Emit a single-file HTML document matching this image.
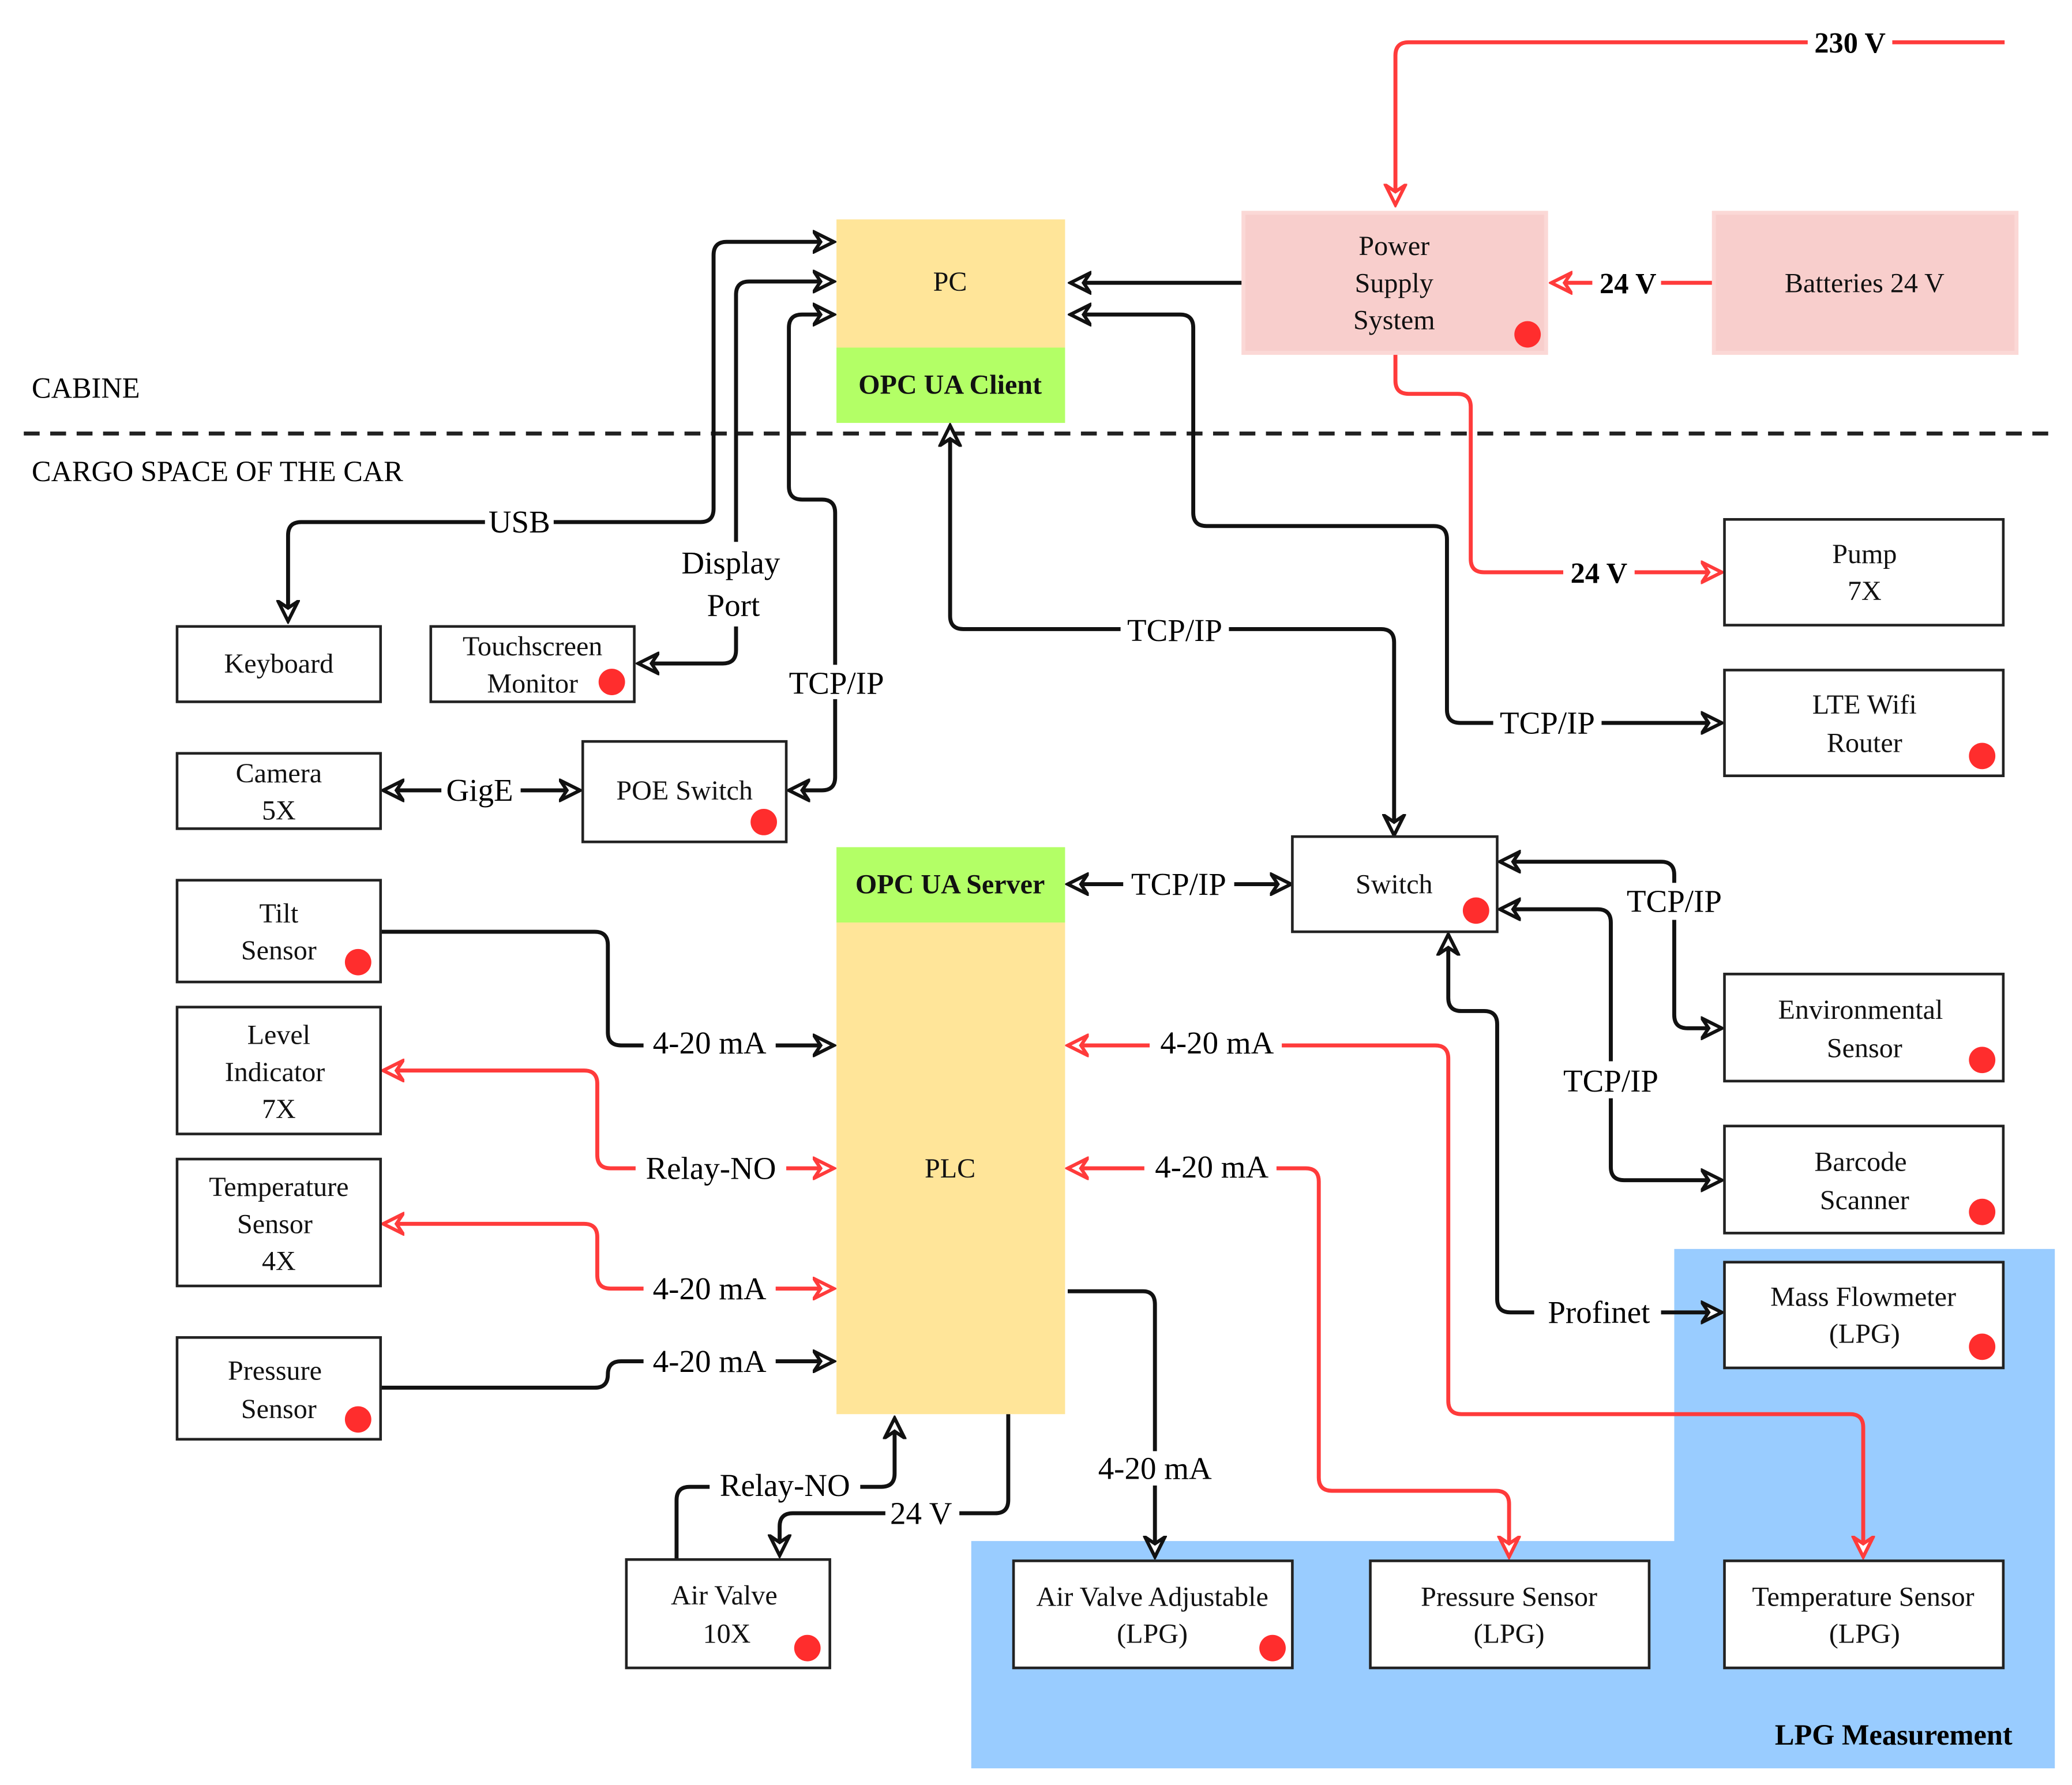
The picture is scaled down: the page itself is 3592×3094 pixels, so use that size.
<!DOCTYPE html>
<html><head><meta charset="utf-8"><style>html,body{margin:0;padding:0;background:#fff}svg{display:block;font-family:"Liberation Serif","DejaVu Serif",serif}text{font-family:"Liberation Serif","DejaVu Serif",serif}</style></head>
<body>
<svg width="3592" height="3094" viewBox="0 0 1568 1350.6" xmlns="http://www.w3.org/2000/svg">
<defs>
<marker id="ab" viewBox="0 0 18 18" refX="16" refY="9" markerWidth="18" markerHeight="18" markerUnits="userSpaceOnUse" orient="auto-start-reverse">
<path d="M1,1.5 L16,9 L1,16.5 L6,9 Z" fill="#fff" stroke="#111" stroke-width="2.6" stroke-linejoin="miter"/></marker>
<marker id="ar" viewBox="0 0 18 18" refX="16" refY="9" markerWidth="18" markerHeight="18" markerUnits="userSpaceOnUse" orient="auto-start-reverse">
<path d="M1,1.5 L16,9 L1,16.5 L6,9 Z" fill="#fff" stroke="#ff3b3b" stroke-width="2.6"/></marker>
</defs>
<rect width="1568" height="1351" fill="#fff"/>
<polygon points="1267,945 1555,945 1555,1338 735,1338 735,1166 1267,1166" fill="#99ccff"/>
<text x="1433" y="1320" font-size="22" font-weight="bold" text-anchor="middle">LPG Measurement</text>
<line x1="18" y1="328" x2="1555" y2="328" stroke="#222" stroke-width="3" stroke-dasharray="12,8"/>
<text x="24" y="301" font-size="22">CABINE</text>
<text x="24" y="364" font-size="22">CARGO SPACE OF THE CAR</text>

<g fill="none" stroke-width="3" stroke-linejoin="round">
<g stroke="#ff3b3b">
<path d="M1517,32 H1066 Q1056,32 1056,42 V155" marker-end="url(#ar)"/>
<path d="M1296,214 H1174" marker-end="url(#ar)"/>
<path d="M1056,268 V288 Q1056,298 1066,298 H1103 Q1113,298 1113,308 V423 Q1113,433 1123,433 H1303" marker-end="url(#ar)"/>
<path d="M290,810 H442 Q452,810 452,820 V874 Q452,884 462,884 H631" marker-start="url(#ar)" marker-end="url(#ar)"/>
<path d="M290,926 H442 Q452,926 452,936 V965 Q452,975 462,975 H631" marker-start="url(#ar)" marker-end="url(#ar)"/>
<path d="M808,884 H988 Q998,884 998,894 V1118 Q998,1128 1008,1128 H1132 Q1142,1128 1142,1138 V1178" marker-start="url(#ar)" marker-end="url(#ar)"/>
<path d="M808,791 H1086 Q1096,791 1096,801 V1060 Q1096,1070 1106,1070 H1400 Q1410,1070 1410,1080 V1178" marker-start="url(#ar)" marker-end="url(#ar)"/>
</g>
<g stroke="#111">
<path d="M940,214 H810" marker-end="url(#ab)"/>
<path d="M810,238 H893 Q903,238 903,248 V388 Q903,398 913,398 H1085 Q1095,398 1095,408 V537 Q1095,547 1105,547 H1303" marker-start="url(#ab)" marker-end="url(#ab)"/>
<path d="M631,183 H550 Q540,183 540,193 V385 Q540,395 530,395 H228 Q218,395 218,405 V470" marker-start="url(#ab)" marker-end="url(#ab)"/>
<path d="M631,213 H567 Q557,213 557,223 V492 Q557,502 547,502 H483" marker-start="url(#ab)" marker-end="url(#ab)"/>
<path d="M631,238 H607 Q597,238 597,248 V368 Q597,378 607,378 H622 Q632,378 632,388 V588 Q632,598 622,598 H597" marker-end="url(#ab)" marker-start="url(#ab)"/>
<path d="M290,598 H439" marker-start="url(#ab)" marker-end="url(#ab)"/>
<path d="M719,322 V466 Q719,476 729,476 H1045 Q1055,476 1055,486 V632" marker-start="url(#ab)" marker-end="url(#ab)"/>
<path d="M808,669 H977" marker-start="url(#ab)" marker-end="url(#ab)"/>
<path d="M1135,652 H1257 Q1267,652 1267,662 V768 Q1267,778 1277,778 H1303" marker-start="url(#ab)" marker-end="url(#ab)"/>
<path d="M1135,688 H1209 Q1219,688 1219,698 V883 Q1219,893 1229,893 H1303" marker-start="url(#ab)" marker-end="url(#ab)"/>
<path d="M1096,707 V755 Q1096,765 1106,765 H1123 Q1133,765 1133,775 V983 Q1133,993 1143,993 H1303" marker-start="url(#ab)" marker-end="url(#ab)"/>
<path d="M288,705 H450 Q460,705 460,715 V781 Q460,791 470,791 H631" marker-end="url(#ab)"/>
<path d="M288,1050 H450 Q460,1050 460,1040 Q460,1030 470,1030 H631" marker-end="url(#ab)"/>
<path d="M512,1180 V1135 Q512,1125 522,1125 H667 Q677,1125 677,1115 V1073" marker-end="url(#ab)"/>
<path d="M763,1070 V1135 Q763,1145 753,1145 H600 Q590,1145 590,1155 V1177" marker-end="url(#ab)"/>
<path d="M808,977 H865 Q874,977 874,987 V1178" marker-end="url(#ab)"/>
</g>
</g>

<g font-size="24" text-anchor="middle">
<g fill="#fff">
<rect x="1368" y="20" width="64" height="24"/><rect x="1205" y="202" width="52" height="24"/><rect x="1183" y="421" width="54" height="24"/>
<rect x="367" y="383" width="52" height="24"/><rect x="510" y="410" width="88" height="64"/><rect x="588" y="503" width="90" height="26"/>
<rect x="334" y="585" width="60" height="26"/><rect x="848" y="465" width="82" height="24"/><rect x="850" y="657" width="84" height="24"/>
<rect x="1130" y="535" width="82" height="24"/><rect x="1222" y="668" width="90" height="28"/><rect x="1174" y="803" width="90" height="28"/>
<rect x="1161" y="980" width="96" height="26"/><rect x="487" y="777" width="100" height="26"/><rect x="481" y="871" width="114" height="26"/>
<rect x="487" y="962" width="100" height="26"/><rect x="487" y="1017" width="100" height="26"/><rect x="537" y="1111" width="114" height="26"/>
<rect x="670" y="1132" width="56" height="26"/><rect x="822" y="1098" width="104" height="26"/><rect x="870" y="777" width="100" height="26"/>
<rect x="866" y="871" width="100" height="26"/>
</g>
<text x="1400" y="40" font-size="22" font-weight="bold">230 V</text>
<text x="1232" y="222" font-size="22" font-weight="bold">24 V</text>
<text x="1210" y="441" font-size="22" font-weight="bold">24 V</text>
<text x="393" y="403">USB</text>
<text x="553" y="434">Display</text><text x="555" y="466">Port</text>
<text x="633" y="525">TCP/IP</text>
<text x="363" y="606">GigE</text>
<text x="889" y="485">TCP/IP</text>
<text x="892" y="677">TCP/IP</text>
<text x="1171" y="555">TCP/IP</text>
<text x="1267" y="690">TCP/IP</text>
<text x="1219" y="826">TCP/IP</text>
<text x="1210" y="1001">Profinet</text>
<text x="537" y="797">4-20 mA</text>
<text x="538" y="892">Relay-NO</text>
<text x="537" y="983">4-20 mA</text>
<text x="537" y="1038">4-20 mA</text>
<text x="594" y="1132">Relay-NO</text>
<text x="697" y="1153">24 V</text>
<text x="874" y="1119">4-20 mA</text>
<text x="921" y="797">4-20 mA</text>
<text x="917" y="891">4-20 mA</text>
</g>

<rect x="633" y="166" width="173" height="97" fill="#ffe599"/>
<rect x="633" y="263" width="173" height="57" fill="#b3ff66"/>
<rect x="633" y="641" width="173" height="57" fill="#b3ff66"/>
<rect x="633" y="698" width="173" height="372" fill="#ffe599"/>
<rect x="941" y="161" width="229" height="106" fill="#f8cecc" stroke="#fbd8d6" stroke-width="3"/>
<rect x="1297" y="161" width="229" height="106" fill="#f8cecc" stroke="#fbd8d6" stroke-width="3"/>

<g fill="#fff" stroke="#222" stroke-width="2">
<rect x="1305" y="393" width="211" height="80"/>
<rect x="1305" y="507" width="211" height="80"/>
<rect x="134" y="474" width="154" height="57"/>
<rect x="326" y="474" width="154" height="57"/>
<rect x="134" y="570" width="154" height="57"/>
<rect x="441" y="561" width="154" height="76"/>
<rect x="978" y="633" width="155" height="72"/>
<rect x="1305" y="737" width="211" height="81"/>
<rect x="1305" y="852" width="211" height="81"/>
<rect x="1305" y="955" width="211" height="80"/>
<rect x="767" y="1181" width="211" height="81"/>
<rect x="1037" y="1181" width="211" height="81"/>
<rect x="1305" y="1181" width="211" height="81"/>
<rect x="474" y="1180" width="154" height="82"/>
<rect x="134" y="666" width="154" height="77"/>
<rect x="134" y="762" width="154" height="96"/>
<rect x="134" y="877" width="154" height="96"/>
<rect x="134" y="1012" width="154" height="77"/>
</g>

<g font-size="21" text-anchor="middle" fill="#111">
<text x="719" y="220">PC</text>
<text x="719" y="298" font-weight="bold">OPC UA Client</text>
<text x="719" y="676" font-weight="bold">OPC UA Server</text>
<text x="719" y="891">PLC</text>
<text x="1055" y="193">Power</text><text x="1055" y="221">Supply</text><text x="1055" y="249">System</text>
<text x="1411" y="221">Batteries 24 V</text>
<text x="1411" y="426">Pump</text><text x="1411" y="454">7X</text>
<text x="1411" y="540">LTE Wifi</text><text x="1411" y="569">Router</text>
<text x="211" y="509">Keyboard</text>
<text x="403" y="496">Touchscreen</text><text x="403" y="524">Monitor</text>
<text x="211" y="592">Camera</text><text x="211" y="620">5X</text>
<text x="518" y="605">POE Switch</text>
<text x="1055" y="676">Switch</text>
<text x="1408" y="771">Environmental</text><text x="1411" y="800">Sensor</text>
<text x="1408" y="886">Barcode</text><text x="1411" y="915">Scanner</text>
<text x="1410" y="988">Mass Flowmeter</text><text x="1411" y="1016">(LPG)</text>
<text x="872" y="1215">Air Valve Adjustable</text><text x="872" y="1243">(LPG)</text>
<text x="1142" y="1215">Pressure Sensor</text><text x="1142" y="1243">(LPG)</text>
<text x="1410" y="1215">Temperature Sensor</text><text x="1411" y="1243">(LPG)</text>
<text x="548" y="1214">Air Valve</text><text x="550" y="1243">10X</text>
<text x="211" y="698">Tilt</text><text x="211" y="726">Sensor</text>
<text x="211" y="790">Level</text><text x="208" y="818">Indicator</text><text x="211" y="846">7X</text>
<text x="211" y="905">Temperature</text><text x="208" y="933">Sensor</text><text x="211" y="961">4X</text>
<text x="208" y="1044">Pressure</text><text x="211" y="1073">Sensor</text>
</g>

<g fill="#ff2d2d">
<circle cx="1156" cy="253" r="10"/><circle cx="1500" cy="572" r="10"/><circle cx="463" cy="516" r="10"/>
<circle cx="578" cy="622" r="10"/><circle cx="1117" cy="689" r="10"/><circle cx="1500" cy="802" r="10"/>
<circle cx="1500" cy="917" r="10"/><circle cx="1500" cy="1019" r="10"/><circle cx="963" cy="1247" r="10"/>
<circle cx="611" cy="1247" r="10"/><circle cx="271" cy="728" r="10"/><circle cx="271" cy="1074" r="10"/>
</g>
</svg>
</body></html>
